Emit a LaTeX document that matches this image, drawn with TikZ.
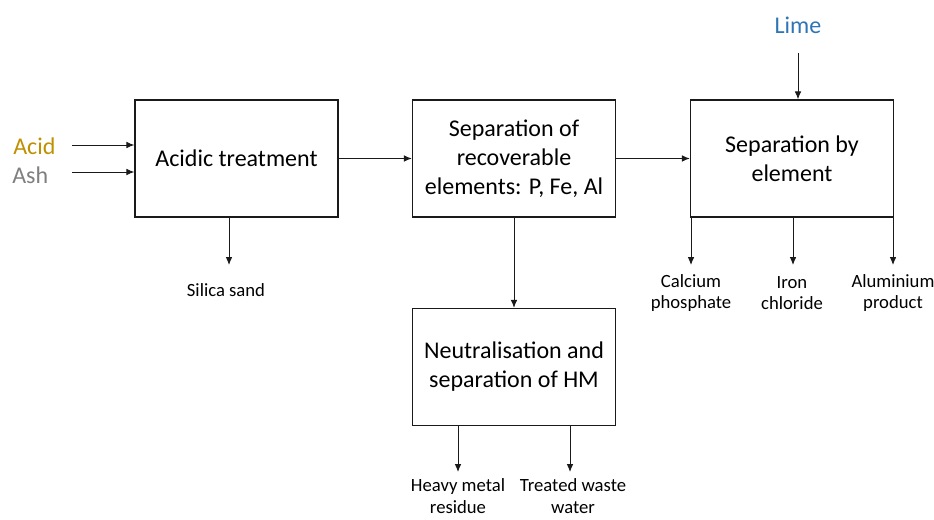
\documentclass[tikz,border=0pt]{standalone}
\usepackage{fontspec}
\setmainfont{Carlito}
\usetikzlibrary{arrows.meta,positioning,calc}
\definecolor{FlowInk}{HTML}{1A1A1A}
\definecolor{AcidGold}{HTML}{BF9000}
\definecolor{AshGrey}{HTML}{7F7F7F}
\definecolor{LimeBlue}{HTML}{2E75B6}
\tikzset{
  procbox/.style={draw=FlowInk,line width=1pt,minimum width=152.25pt,
    minimum height=87.75pt,align=center,inner sep=2pt,
    font=\fontsize{18}{21.75}\selectfont},
  flow/.style={->,draw=FlowInk,line width=0.7pt},
  inlab/.style={inner sep=0pt,font=\fontsize{18}{21.75}\selectfont},
  outlab/.style={align=center,inner sep=0pt,font=\fontsize{14}{16}\selectfont}
}

\begin{document}
\begin{tikzpicture}[x=0.75pt,y=0.75pt,>={Latex[length=6pt,width=5pt]}]
    \useasboundingbox (0,0) rectangle (934,519);
    % process steps
    \node[procbox] (acidic)  at (236.5,360.5) {Acidic treatment};
    \node[procbox] (recover) at (514,360.5) {Separation of\\recoverable\\elements: P, Fe, Al};
    \node[procbox] (byelem)  at (792,360.5) {Separation by\\element};
    \node[procbox] (neutral) at (514,152) {Neutralisation and\\separation of HM};
    \draw[flow] (acidic) -- (recover);
    \draw[flow] (recover) -- (byelem);
    \draw[flow] (recover) -- (neutral);

    % feeds
    \node[inlab,anchor=west,text=AcidGold] (acid) at (13,373) {Acid};
    \node[inlab,anchor=west,text=AshGrey] (ash) at (12,344) {Ash};
    \node[inlab,text=LimeBlue] (lime) at (798,494) {Lime};
    \coordinate (acidin) at (72,374);
    \coordinate (ashin) at (72,347);
    \coordinate (limein) at (798,466);
    \draw[flow] (acidin) -- (acidin -| acidic.west);
    \draw[flow] (ashin) -- (ashin -| acidic.west);
    \draw[flow] (limein) -- (limein |- byelem.north);

    % products
    \foreach \src/\nm/\x/\lx/\ty/\ly/\lab in {
        acidic/silica/229/226/254/229/{Silica sand},
        byelem/caphos/691/691/254/226/{Calcium\\phosphate},
        byelem/fecl/793/792/254/226/{Iron\\chloride},
        byelem/alprod/893/893/254/226/{Aluminium\\product},
        neutral/hmres/458/458/47/23/{Heavy metal\\residue},
        neutral/water/570/573/47/23/{Treated waste\\water}} {
      \coordinate (\nm end) at (\x,\ty);
      \node[outlab] (\nm) at (\lx,\ly) {\lab};
      \draw[flow] (\nm end |- \src.south) -- (\nm end);
    }
\end{tikzpicture}
\end{document}
